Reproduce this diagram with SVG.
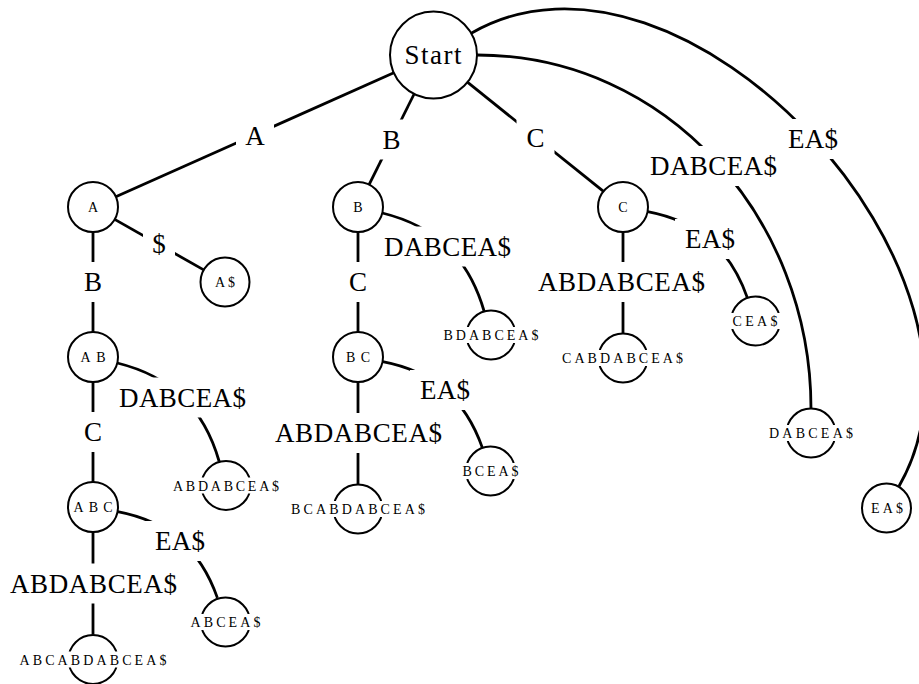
<svg xmlns="http://www.w3.org/2000/svg" width="919" height="684" viewBox="0 0 919 684">
  <style>
    .edge { fill: none; stroke: #000; stroke-width: 2.8; }
    .node circle { fill: #fff; stroke: #000; stroke-width: 2; }
    .lbl { font-family: "Liberation Serif", "Times New Roman", serif; font-size: 27px; fill: #000; text-anchor: middle; }
    .small { font-family: "Liberation Serif", "Times New Roman", serif; font-size: 14px; fill: #000; text-anchor: middle; }
    .bg { fill: #fff; stroke: none; }
  </style>
  <rect x="0" y="0" width="919" height="684" fill="#fff"/>

  <!-- edges of the suffix tree -->
  <g id="connectors">
    <path class="edge" d="M393.8,72.7 L115.8,196.8"/>
    <path class="edge" d="M414.1,94 L369.1,184.6"/>
    <path class="edge" d="M467.4,82.2 L603.5,191.4"/>
    <path class="edge" d="M477,55 C667,55 811,218 811,408.5"/>
    <path class="edge" d="M471.2,33.25 C682.5,-88.7 1021,275 899,486.3"/>
    <path class="edge" d="M93,232 L93,332"/>
    <path class="edge" d="M114.7,219.4 L203.7,269.9"/>
    <path class="edge" d="M93,382 L93,482"/>
    <path class="edge" d="M117.3,363 C171.2,376.3 203.8,408.2 219.2,461.5"/>
    <path class="edge" d="M93,532 L93,634.5"/>
    <path class="edge" d="M117.6,511.6 C168.3,521.2 200.4,549.2 217.4,597.9"/>
    <path class="edge" d="M358,232 L358,332"/>
    <path class="edge" d="M382.3,213 C436.2,226.3 468.8,258.2 484.2,311.5"/>
    <path class="edge" d="M358,382 L358,484.5"/>
    <path class="edge" d="M382.6,361.6 C433.3,371.2 465.4,399.2 482.4,447.9"/>
    <path class="edge" d="M623,232 L623,333.5"/>
    <path class="edge" d="M647.6,211.6 C698.3,221.2 730.4,249.2 747.4,297.9"/>
  </g>

  <!-- edge labels, each on a white box that interrupts its edge -->
  <g id="edge-labels">
    <rect class="bg" x="236" y="115.5" width="38" height="40"/>
    <text class="lbl" x="255" y="144.5">A</text>
    <rect class="bg" x="373" y="119.5" width="37" height="40"/>
    <text class="lbl" x="391.5" y="148.5">B</text>
    <rect class="bg" x="516.5" y="118" width="38" height="40"/>
    <text class="lbl" x="535.5" y="147">C</text>
    <rect class="bg" x="640" y="146" width="147" height="40"/>
    <text class="lbl" x="713.5" y="175" textLength="127" lengthAdjust="spacing">DABCEA$</text>
    <rect class="bg" x="778" y="119" width="70" height="40"/>
    <text class="lbl" x="813" y="148" textLength="50" lengthAdjust="spacing">EA$</text>

    <rect class="bg" x="74.5" y="262" width="37" height="40"/>
    <text class="lbl" x="93" y="291">B</text>
    <rect class="bg" x="143" y="224" width="32" height="40"/>
    <text class="lbl" x="159" y="253">$</text>
    <rect class="bg" x="74" y="412" width="38" height="40"/>
    <text class="lbl" x="93" y="441">C</text>
    <rect class="bg" x="109" y="377.5" width="147" height="40"/>
    <text class="lbl" x="182.5" y="406.5" textLength="127" lengthAdjust="spacing">DABCEA$</text>
    <rect class="bg" x="145" y="521" width="70" height="40"/>
    <text class="lbl" x="180" y="550" textLength="50" lengthAdjust="spacing">EA$</text>
    <rect class="bg" x="0" y="563.5" width="187" height="40"/>
    <text class="lbl" x="93.5" y="592.5" textLength="167" lengthAdjust="spacing">ABDABCEA$</text>

    <rect class="bg" x="339" y="262" width="38" height="40"/>
    <text class="lbl" x="358" y="291">C</text>
    <rect class="bg" x="374" y="226.5" width="147" height="40"/>
    <text class="lbl" x="447.5" y="255.5" textLength="127" lengthAdjust="spacing">DABCEA$</text>
    <rect class="bg" x="410" y="370" width="70" height="40"/>
    <text class="lbl" x="445" y="399" textLength="50" lengthAdjust="spacing">EA$</text>
    <rect class="bg" x="265" y="413" width="187" height="40"/>
    <text class="lbl" x="358.5" y="442" textLength="167" lengthAdjust="spacing">ABDABCEA$</text>

    <rect class="bg" x="675" y="219" width="70" height="40"/>
    <text class="lbl" x="710" y="248" textLength="50" lengthAdjust="spacing">EA$</text>
    <rect class="bg" x="528" y="262" width="187" height="40"/>
    <text class="lbl" x="621.5" y="291" textLength="167" lengthAdjust="spacing">ABDABCEA$</text>
  </g>

  <!-- root -->
  <g id="start" class="node">
    <circle cx="433.5" cy="55" r="43.5"/>
    <text class="lbl" x="433" y="64" textLength="57" lengthAdjust="spacing">Start</text>
  </g>

  <!-- internal nodes -->
  <g id="n-A" class="node">
    <circle cx="93" cy="207" r="25"/>
    <text class="small" x="93" y="211.5">A</text>
  </g>
  <g id="n-B" class="node">
    <circle cx="358" cy="207" r="25"/>
    <text class="small" x="358" y="211.5">B</text>
  </g>
  <g id="n-C" class="node">
    <circle cx="623" cy="207" r="25"/>
    <text class="small" x="623" y="211.5">C</text>
  </g>
  <g id="n-AB" class="node">
    <circle cx="93" cy="357" r="25"/>
    <text class="small" x="93" y="361.5" textLength="25" lengthAdjust="spacing">AB</text>
  </g>
  <g id="n-BC" class="node">
    <circle cx="358" cy="357" r="25"/>
    <text class="small" x="358" y="361.5" textLength="24" lengthAdjust="spacing">BC</text>
  </g>
  <g id="n-ABC" class="node">
    <circle cx="93" cy="507" r="25"/>
    <text class="small" x="93" y="511.5" textLength="39" lengthAdjust="spacing">ABC</text>
  </g>

  <!-- leaves -->
  <g id="leaf-A$" class="node">
    <circle cx="225" cy="282" r="24.5"/>
    <text class="small" x="225" y="286.5" textLength="20" lengthAdjust="spacing">A$</text>
  </g>
  <g id="leaf-ABDABCEA$" class="node">
    <circle cx="226" cy="485.5" r="24.5"/>
    <rect class="bg" x="169" y="477.5" width="114" height="16"/>
    <text class="small" x="226" y="490.5" textLength="106" lengthAdjust="spacing">ABDABCEA$</text>
  </g>
  <g id="leaf-ABCEA$" class="node">
    <circle cx="225.5" cy="622" r="24.5"/>
    <rect class="bg" x="186.5" y="614" width="78" height="16"/>
    <text class="small" x="225.5" y="627" textLength="70" lengthAdjust="spacing">ABCEA$</text>
  </g>
  <g id="leaf-ABCABDABCEA$" class="node">
    <circle cx="93" cy="659.5" r="24.5"/>
    <rect class="bg" x="15.5" y="651.5" width="155" height="16"/>
    <text class="small" x="93" y="664.5" textLength="147" lengthAdjust="spacing">ABCABDABCEA$</text>
  </g>
  <g id="leaf-BDABCEA$" class="node">
    <circle cx="491" cy="335" r="24.5"/>
    <rect class="bg" x="439.5" y="327" width="103" height="16"/>
    <text class="small" x="491" y="340" textLength="95" lengthAdjust="spacing">BDABCEA$</text>
  </g>
  <g id="leaf-BCEA$" class="node">
    <circle cx="490.5" cy="471" r="24.5"/>
    <rect class="bg" x="458.5" y="463" width="64" height="16"/>
    <text class="small" x="490.5" y="476" textLength="56" lengthAdjust="spacing">BCEA$</text>
  </g>
  <g id="leaf-BCABDABCEA$" class="node">
    <circle cx="358" cy="509" r="24.5"/>
    <rect class="bg" x="287" y="501" width="142" height="16"/>
    <text class="small" x="358" y="514" textLength="134" lengthAdjust="spacing">BCABDABCEA$</text>
  </g>
  <g id="leaf-CABDABCEA$" class="node">
    <circle cx="623" cy="358" r="24.5"/>
    <rect class="bg" x="558" y="350" width="129" height="16"/>
    <text class="small" x="622.5" y="363" textLength="121" lengthAdjust="spacing">CABDABCEA$</text>
  </g>
  <g id="leaf-CEA$" class="node">
    <circle cx="755.5" cy="321" r="24.5"/>
    <rect class="bg" x="728.5" y="313" width="53" height="16"/>
    <text class="small" x="755" y="326" textLength="45" lengthAdjust="spacing">CEA$</text>
  </g>
  <g id="leaf-DABCEA$" class="node">
    <circle cx="811" cy="433" r="24.5"/>
    <rect class="bg" x="765" y="425" width="92" height="16"/>
    <text class="small" x="811" y="438" textLength="84" lengthAdjust="spacing">DABCEA$</text>
  </g>
  <g id="leaf-EA$" class="node">
    <circle cx="886.5" cy="508" r="24.5"/>
    <text class="small" x="887" y="513" textLength="32" lengthAdjust="spacing">EA$</text>
  </g>
</svg>
